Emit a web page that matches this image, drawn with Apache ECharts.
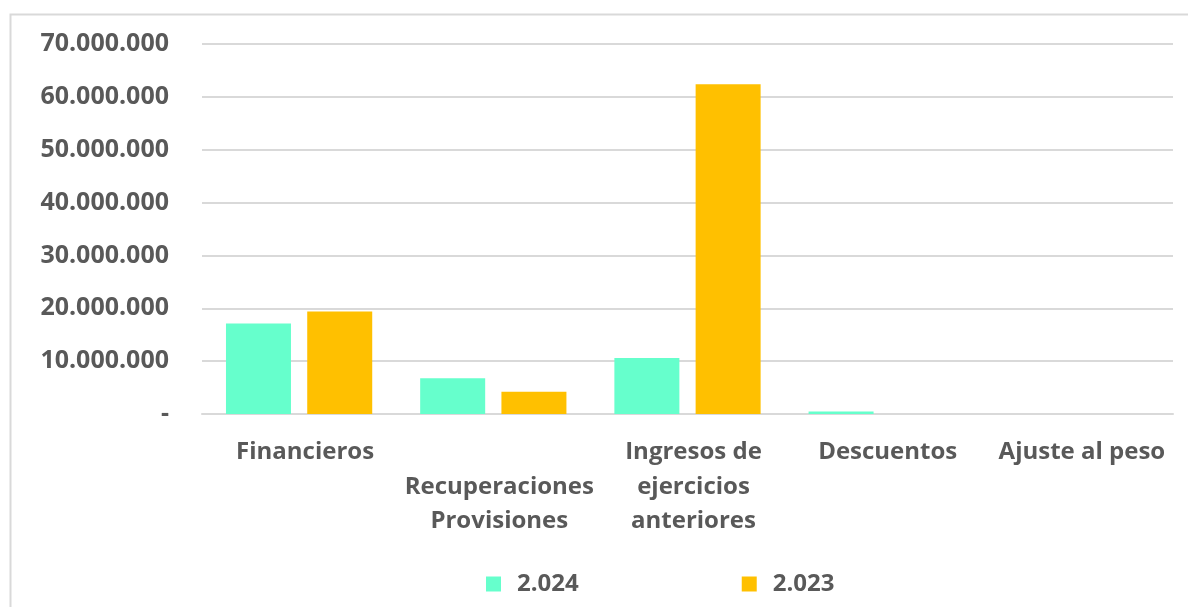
<!DOCTYPE html>
<html>
<head>
<meta charset="utf-8">
<script src="https://cdn.jsdelivr.net/npm/echarts@6/dist/echarts.min.js"></script>
<style>
html,body{margin:0;padding:0;background:#fff;}
#chart{width:1188px;height:607px;}
</style>
</head>
<body>
<div id="chart"></div>
<script>
const categories = ['Financieros', 'Recuperaciones Provisiones', 'Ingresos de ejercicios anteriores', 'Descuentos', 'Ajuste al peso'];
const categoryLabels = ['Financieros', '\nRecuperaciones\nProvisiones', 'Ingresos de\nejercicios\nanteriores', 'Descuentos', 'Ajuste al peso'];
const seriesNames = ['2.024', '2.023'];
const values2024 = [17100000, 6750000, 10600000, 450000, 0];
const values2023 = [19400000, 4200000, 62400000, 0, 0];
const yMin = 0, yMax = 70000000, yInterval = 10000000;

const fmt = v => v === 0 ? '-' : String(Math.round(v)).replace(/\B(?=(\d{3})+(?!\d))/g, '.');
const txt = '#595959';
const font = '"Open Sans", sans-serif';

const chart = echarts.init(document.getElementById('chart'), null, {renderer: 'canvas'});
chart.setOption({
  animation: false,
  backgroundColor: '#fff',
  graphic: [{
    type: 'rect', left: 8, top: 12, silent: true,
    shape: {width: 1300, height: 800},
    style: {fill: 'none', stroke: '#d9d9d9', lineWidth: 2}
  }],
  grid: {left: 202, right: 15, top: 44, bottom: 193, containLabel: false},
  legend: {
    data: seriesNames,
    left: 481, top: 567,
    itemWidth: 15, itemHeight: 15, itemGap: 163,
    icon: 'rect',
    textStyle: {color: txt, fontSize: 24, fontWeight: 'bold', fontFamily: font, padding: [0, 0, 0, 11]}
  },
  xAxis: {
    type: 'category',
    data: categories,
    axisLine: {show: true, lineStyle: {color: '#d9d9d9', width: 2}},
    axisTick: {show: false},
    axisLabel: {
      interval: 0, margin: 21, padding: [0, 0, 0, 12],
      color: txt, fontSize: 24, fontWeight: 'bold', fontFamily: font, lineHeight: 34.5,
      formatter: (v, i) => categoryLabels[i]
    }
  },
  yAxis: {
    type: 'value', min: yMin, max: yMax, interval: yInterval,
    axisLine: {show: false}, axisTick: {show: false},
    splitLine: {lineStyle: {color: '#d9d9d9', width: 2}},
    axisLabel: {margin: 33, color: txt, fontSize: 25, fontWeight: 'bold', fontFamily: font, formatter: fmt}
  },
  series: [
    {name: seriesNames[0], type: 'bar', data: values2024, barWidth: 65, barGap: '25%', itemStyle: {color: '#66FFCC'}},
    {name: seriesNames[1], type: 'bar', data: values2023, barWidth: 65, barGap: '25%', itemStyle: {color: '#FFC000'}}
  ]
});
</script>
</body>
</html>
